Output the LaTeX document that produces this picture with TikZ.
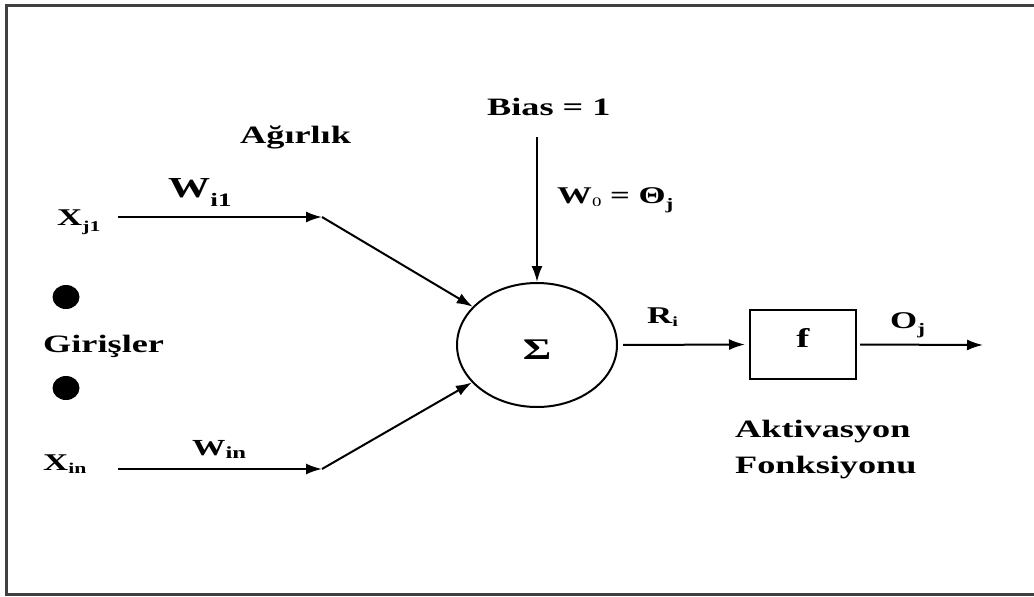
\documentclass[tikz,border=0pt]{standalone}
\usepackage{fontspec}
\setmainfont{Liberation Serif}[FakeStretch=1.45]
\usetikzlibrary{arrows.meta,shapes.geometric}
\newcommand\fsz[1]{\fontsize{#1}{#1}\selectfont}
\newcommand\lowsub[3]{\raisebox{-#2pt}{\fsz{#1}#3}}
\begin{document}
\begin{tikzpicture}[x=1pt,y=-1pt,
  lbl/.style={inner sep=0pt,font=\bfseries\fsz{25},anchor=base west},
  ln/.style={line width=2pt},
  arr/.style={ln,-{Latex[length=16pt,width=11pt]}},
  dotnode/.style={ellipse,fill=black,inner sep=0pt,minimum width=27pt,minimum height=24pt}]
\useasboundingbox (0,0) rectangle (1034,597);
\draw[line width=3pt,draw=black!75] (1040,5) -- (6,5) -- (6,594) -- (1040,594);
% labels
\node[lbl] (agr) at (240,143) {Ağırlık};
\node[lbl] (wi1) at (168,197) {\fsz{29}W\lowsub{19}{9}{i1}};
\node[lbl] (xj1) at (57,225) {\fsz{24}X\lowsub{15}{6}{j1}};
\node[lbl] (gir) at (43,352) {Girişler};
\node[dotnode] (d1) at (66,297) {};
\node[dotnode] (d2) at (66,388) {};
\node[lbl] (xin) at (43,470) {\fsz{24}X\lowsub{15}{3}{in}};
\node[lbl] (win) at (192,455) {\fsz{23}W\lowsub{17}{3}{in}};
\node[lbl] (bias) at (487,115) {Bias = 1};
\node[lbl] (w0) at (557,203) {\fsz{24}W\lowsub{13}{3}{\mdseries 0} = Θ\lowsub{16}{6}{j}};
\node[lbl] (ri) at (647,323) {\fsz{24}R\lowsub{14}{3}{i}};
\node[lbl] (oj) at (890,328) {\fsz{24}O\lowsub{16}{6}{j}};
\node[lbl] (akt) at (735,437) {Aktivasyon};
\node[lbl] (fon) at (735,473) {Fonksiyonu};
% main shapes
\node[ellipse,draw,ln,inner sep=0pt,minimum width=160pt,minimum height=124pt] (sum) at (537,345) {};
\node[inner sep=0pt,font=\bfseries\fsz{30}] (sig) at (537,350) {Σ};
\node[draw,ln,inner sep=0pt,minimum width=106pt,minimum height=69pt] (fbox) at (803,344.5) {};
\node[inner sep=0pt,font=\bfseries\fsz{27}] (ftxt) at (803,338) {f};
% connectors
\coordinate (s1) at (118,217);
\coordinate (b1) at (322,217);
\coordinate (s2) at (118,469);
\coordinate (b2) at (322,469);
\coordinate (bt) at (537,137);
\coordinate (oe) at (983,345);
\draw[arr] (s1) -- (b1);
\draw[arr] (b1) -- (sum);
\draw[arr] (s2) -- (b2);
\draw[arr] (b2) -- (sum);
\draw[arr] (bt) -- (sum.north);
\draw[arr,shorten <=5pt,shorten >=4pt] (sum.east) -- (fbox.west);
\draw[arr,shorten <=3pt] (fbox.east) -- (oe);
\end{tikzpicture}
\end{document}
